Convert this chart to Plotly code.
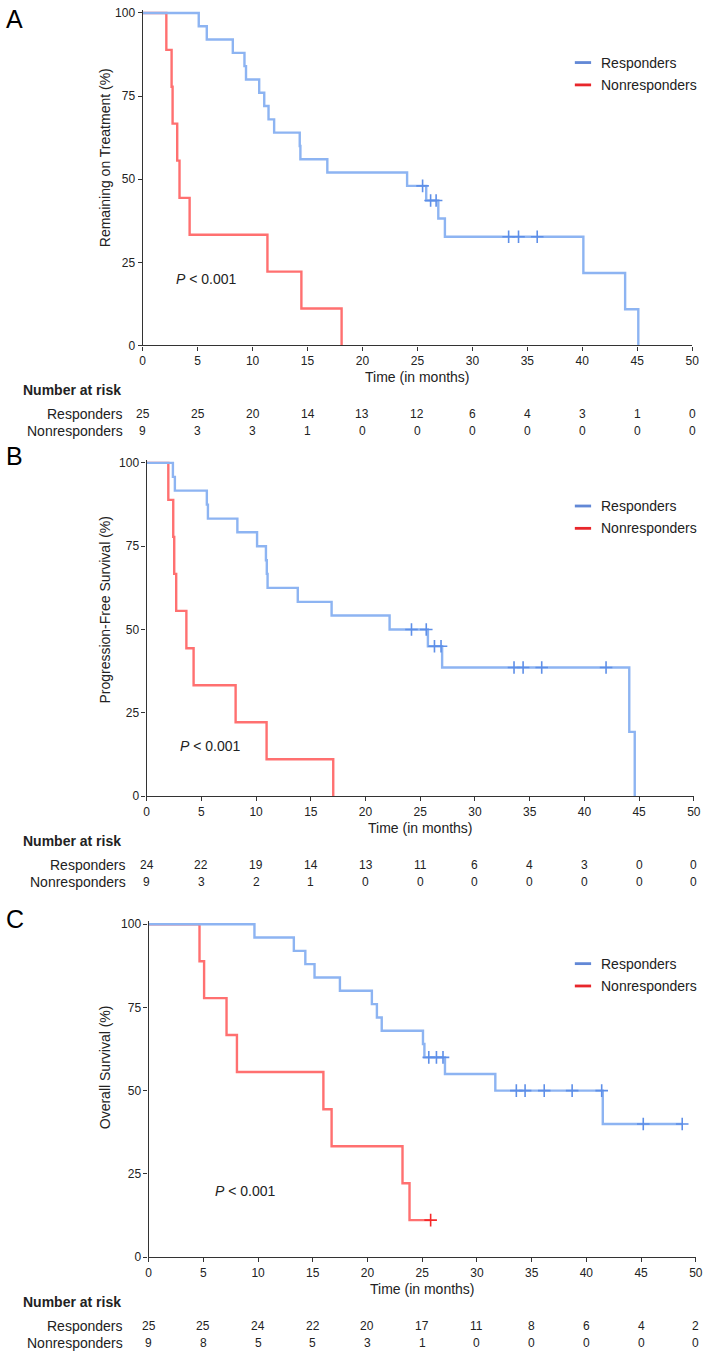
import plotly.graph_objects as go
import numpy as np

W, H = 710, 1371

# ---------------- DATA ----------------
# Panel A: Remaining on Treatment
a_resp_t = [0, 5.1, 5.83, 8.2, 9.26, 9.4, 10.6, 11.06, 11.45, 11.96, 14.29, 14.35, 16.8,
            24.06, 25.8, 26.9, 27.5, 40.1, 43.9, 45.1]
a_resp_s = [100, 96, 92, 88, 84, 80, 76, 72, 68, 64, 60, 56, 52, 48, 43.6, 38.2, 32.7, 21.8, 10.9, 0]
a_resp_c = [25.47, 26.2, 26.7, 33.3, 34.2, 35.9]
a_resp_end = 45.1
a_non_t = [0, 2.15, 2.63, 2.72, 3.14, 3.35, 4.27, 11.35, 14.44, 18.1]
a_non_s = [100, 88.9, 77.8, 66.7, 55.6, 44.4, 33.3, 22.2, 11.1, 0]
a_non_c = []
a_non_end = 18.1

# Panel B: Progression-Free Survival
b_resp_t = [0, 2.4, 2.58, 5.5, 5.6, 8.29, 10.09, 10.9, 10.98, 11.05, 13.81, 16.9, 22.2,
            25.7, 27.0, 44.1, 44.6]
b_resp_s = [100, 95.8, 91.7, 87.5, 83.3, 79.2, 75.0, 70.8, 66.7, 62.5, 58.3, 54.2, 50.0,
            45.0, 38.6, 19.3, 0]
b_resp_c = [24.2, 25.55, 26.3, 26.9, 33.57, 34.4, 36.1, 41.98]
b_resp_end = 44.6
b_non_t = [0, 1.98, 2.43, 2.52, 2.7, 3.63, 4.29, 8.13, 10.96, 17.05]
b_non_s = [100, 88.9, 77.8, 66.7, 55.6, 44.4, 33.3, 22.2, 11.1, 0]
b_non_c = []
b_non_end = 17.05

# Panel C: Overall Survival
c_resp_t = [0, 9.67, 13.27, 14.32, 15.16, 17.48, 20.4, 20.86, 21.3, 25.07, 25.2, 27.08, 31.68, 41.5]
c_resp_s = [100, 96, 92, 88, 84, 80, 76, 72, 68, 64, 60, 55, 50, 40]
c_resp_c = [25.6, 26.3, 26.9, 33.6, 34.4, 36.15, 38.7, 41.4, 45.2, 48.76]
c_resp_end = 48.76
c_non_t = [0, 4.65, 5.07, 7.12, 8.07, 15.97, 16.72, 23.2, 23.84]
c_non_s = [100, 88.9, 77.8, 66.7, 55.6, 44.4, 33.3, 22.2, 11.1]
c_non_c = [25.77]
c_non_end = 25.77

# Number at risk
risk_times = [0, 5, 10, 15, 20, 25, 30, 35, 40, 45, 50]
a_risk_resp = [25, 25, 20, 14, 13, 12, 6, 4, 3, 1, 0]
a_risk_non = [9, 3, 3, 1, 0, 0, 0, 0, 0, 0, 0]
b_risk_resp = [24, 22, 19, 14, 13, 11, 6, 4, 3, 0, 0]
b_risk_non = [9, 3, 2, 1, 0, 0, 0, 0, 0, 0, 0]
c_risk_resp = [25, 25, 24, 22, 20, 17, 11, 8, 6, 4, 2]
c_risk_non = [9, 8, 5, 5, 3, 1, 0, 0, 0, 0, 0]

group_names = ["Responders", "Nonresponders"]
panel_letters = ["A", "B", "C"]
y_titles = ["Remaining on Treatment (%)", "Progression-Free Survival (%)", "Overall Survival (%)"]
x_title = "Time (in months)"
x_ticks = [0, 5, 10, 15, 20, 25, 30, 35, 40, 45, 50]
y_ticks = [0, 25, 50, 75, 100]

# ---------------- STYLE / LAYOUT ----------------
BLUE_LINE = "#8DB4F2"
BLUE_MARK = "#5E8FE8"
RED_LINE = "#FF7070"
RED_MARK = "#F52A2A"
BLUE_LEG = "#6288D6"
RED_LEG = "#E8262B"
FONT = "Liberation Sans, Arial, sans-serif"
NARROW = "Liberation Sans Narrow, Arial Narrow, Liberation Sans, Arial, sans-serif"

geo = [
    dict(x0=141.7, x50=699.0, y0=345.0, y100=10.0, ytc=155.8, lab_r=123.3, leg_y=60.0,
         pv=(173.7, 278.0), letter_y=16.0),
    dict(x0=145.7, x50=700.7, y0=799.0, y100=463.3, ytc=611.5, lab_r=126.7, leg_y=506.7,
         pv=(177.7, 748.3), letter_y=456.0),
    dict(x0=147.7, x50=702.7, y0=1263.3, y100=928.0, ytc=1072.5, lab_r=123.3, leg_y=967.7,
         pv=(212.7, 1196.7), letter_y=923.0),
]

def px(x):
    return x / W

def py(y):
    return 1 - y / H

panels = [
    (a_resp_t, a_resp_s, a_resp_c, a_resp_end, a_non_t, a_non_s, a_non_c, a_non_end, a_risk_resp, a_risk_non),
    (b_resp_t, b_resp_s, b_resp_c, b_resp_end, b_non_t, b_non_s, b_non_c, b_non_end, b_risk_resp, b_risk_non),
    (c_resp_t, c_resp_s, c_resp_c, c_resp_end, c_non_t, c_non_s, c_non_c, c_non_end, c_risk_resp, c_risk_non),
]

YMAX = 101.0

fig = go.Figure()
layout = dict(width=W, height=H, margin=dict(l=0, r=0, t=0, b=0),
              paper_bgcolor="white", plot_bgcolor="white", showlegend=False,
              font=dict(family=FONT, color="#222"))
annotations = []
shapes = []

def step_value(ts, ss, t):
    idx = np.searchsorted(np.array(ts), t, side="right") - 1
    return ss[idx]

for i, (p, g) in enumerate(zip(panels, geo)):
    rt, rs, rc, rend, nt, ns, nc, nend, rr, rn = p
    sfx = "" if i == 0 else str(i + 1)
    xa = "x" + sfx
    ya = "y" + sfx
    ppu = (g["y0"] - g["y100"]) / 100.0
    top_px = g["y0"] - YMAX * ppu
    layout["xaxis" + sfx] = dict(domain=[px(g["x0"]), px(g["x50"])], range=[0, 50], anchor=ya,
                                 tickvals=x_ticks, ticks="outside", ticklen=4, tickwidth=1.2,
                                 tickcolor="#333", showline=True, linecolor="#333", linewidth=1.3,
                                 showgrid=False, zeroline=False,
                                 tickfont=dict(family=NARROW, size=12, color="#222"))
    layout["yaxis" + sfx] = dict(domain=[py(g["y0"]), py(top_px)], range=[0, YMAX], anchor=xa,
                                 tickvals=y_ticks, ticks="outside", ticklen=4, tickwidth=1.2,
                                 tickcolor="#333", showline=True, linecolor="#333", linewidth=1.3,
                                 showgrid=False, zeroline=False,
                                 tickfont=dict(family=NARROW, size=12, color="#222"))

    for ts, ss, cs, end, lc, mc in [(nt, ns, nc, nend, RED_LINE, RED_MARK),
                                   (rt, rs, rc, rend, BLUE_LINE, BLUE_MARK)]:
        xs = list(ts)
        ys = list(ss)
        if end > xs[-1]:
            xs.append(end)
            ys.append(ys[-1])
        fig.add_trace(go.Scatter(x=xs, y=ys, mode="lines", line=dict(color=lc, width=2.4, shape="hv"),
                                 xaxis=xa, yaxis=ya, hoverinfo="skip"))
        if cs:
            cy = [step_value(ts, ss, c) for c in cs]
            fig.add_trace(go.Scatter(x=cs, y=cy, mode="markers",
                                     marker=dict(symbol="cross-thin", size=9,
                                                 line=dict(color=mc, width=1.6)),
                                     xaxis=xa, yaxis=ya, hoverinfo="skip"))

    # panel letter
    annotations.append(dict(text=panel_letters[i], x=px(1), y=py(g["letter_y"]), xref="paper", yref="paper",
                            xanchor="left", yanchor="middle", showarrow=False,
                            font=dict(size=25, color="black", family=FONT)))
    # y title
    annotations.append(dict(text=y_titles[i], x=px(103), y=py(g["ytc"]), xref="paper", yref="paper",
                            xanchor="center", yanchor="middle", textangle=-90, showarrow=False,
                            font=dict(size=14, color="#222")))
    # x title
    annotations.append(dict(text=x_title, x=px((g["x0"] + g["x50"]) / 2), y=py(g["y0"] + 31.7),
                            xref="paper", yref="paper", xanchor="center", yanchor="middle",
                            showarrow=False, font=dict(size=14, color="#222")))
    # p-value
    annotations.append(dict(text="<i>P</i> < 0.001", x=px(g["pv"][0]), y=py(g["pv"][1]),
                            xref="paper", yref="paper", xanchor="left", yanchor="middle",
                            showarrow=False, font=dict(size=14, color="#222")))
    # legend
    for k, (name, col) in enumerate(zip(group_names, [BLUE_LEG, RED_LEG])):
        ly = g["leg_y"] + k * 22.5
        shapes.append(dict(type="line", xref="paper", yref="paper", x0=px(580), x1=px(596.5),
                           y0=py(ly), y1=py(ly), line=dict(color=col, width=2.8)))
        annotations.append(dict(text=name, x=px(605), y=py(ly), xref="paper", yref="paper",
                                xanchor="left", yanchor="middle", showarrow=False,
                                font=dict(size=14, color="#222")))
    # risk table
    annotations.append(dict(text="<b>Number at risk</b>", x=px(18), y=py(g["y0"] + 45),
                            xref="paper", yref="paper", xanchor="left", yanchor="middle",
                            showarrow=False, font=dict(size=14, color="#222")))
    for k, (name, vals) in enumerate(zip(group_names, [rr, rn])):
        ry = g["y0"] + 69.5 + k * 16.8
        annotations.append(dict(text=name, x=px(g["lab_r"]), y=py(ry), xref="paper", yref="paper",
                                xanchor="right", yanchor="middle", showarrow=False,
                                font=dict(size=14, color="#222")))
        for t, v in zip(risk_times, vals):
            annotations.append(dict(text=str(v), x=t, y=py(ry), xref=xa, yref="paper",
                                    xanchor="center", yanchor="middle", showarrow=False,
                                    font=dict(size=12, color="#222", family=NARROW)))

layout["annotations"] = annotations
layout["shapes"] = shapes
fig.update_layout(**layout)
fig.write_html("out.html", config={"displayModeBar": False},
               post_script="document.body.style.margin='0';document.body.style.overflow='hidden';")
